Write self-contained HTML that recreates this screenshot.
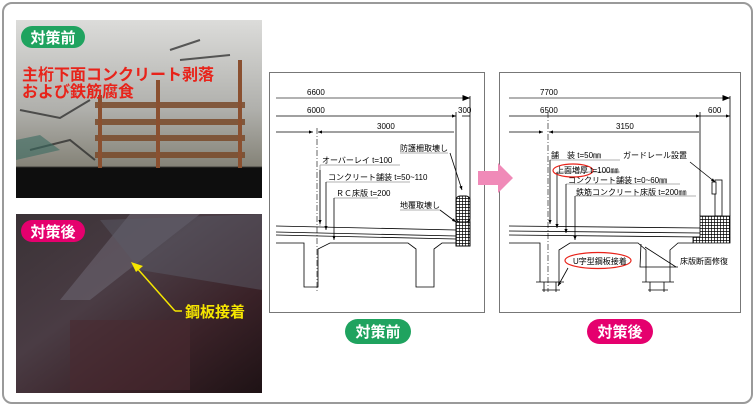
<!DOCTYPE html>
<html><head><meta charset="utf-8"><style>
html,body{margin:0;padding:0;background:#fff;}
svg{display:block;}
text{font-family:"Liberation Sans","Noto Sans CJK JP",sans-serif;}
</style></head><body>
<svg width="755" height="408" viewBox="0 0 755 408" xmlns="http://www.w3.org/2000/svg">
<defs>
<linearGradient id="p1" x1="0" y1="0" x2="0" y2="1">
<stop offset="0" stop-color="#dcdcda"/><stop offset="0.5" stop-color="#b0b0ac"/><stop offset="0.82" stop-color="#858378"/><stop offset="0.83" stop-color="#111"/><stop offset="1" stop-color="#0c0c0c"/></linearGradient>
<linearGradient id="p2" x1="0" y1="0" x2="1" y2="1">
<stop offset="0" stop-color="#3a3236"/><stop offset="0.4" stop-color="#4a3c44"/><stop offset="0.7" stop-color="#3a2228"/><stop offset="1" stop-color="#1e1215"/></linearGradient>
<pattern id="hatch" width="3" height="3" patternUnits="userSpaceOnUse"><rect width="3" height="3" fill="#fff"/><path d="M0 0H3M0 0V3" stroke="#000" stroke-width="1.4"/></pattern>
<marker id="ar" markerWidth="6" markerHeight="6" refX="5" refY="3" orient="auto"><path d="M0 1L5 3L0 5z" fill="#000"/></marker>
</defs>
<rect x="3" y="3" width="749" height="400" rx="9" fill="#fff" stroke="#9a9a9a" stroke-width="2"/>

<!-- photo 1 -->
<rect x="16" y="20" width="246" height="178" fill="url(#p1)"/>
<g stroke="#7a4a2a" stroke-width="6" opacity="0.85">
<path d="M95 105H245M95 122H245M95 138H245M95 155H245"/>
</g>
<g stroke="#8a5030" stroke-width="4"><path d="M100 95V170M158 80V170M240 60V170"/></g>
<g stroke="#222" stroke-width="2" fill="none" opacity="0.7"><path d="M20 110L60 118L90 100M170 50L200 40M30 150L70 140L95 160M180 60L230 55"/></g>
<path d="M16 140L40 135L60 150L16 160Z" fill="#3a6a60" opacity="0.6"/>
<rect x="16" y="168" width="246" height="30" fill="#0e0e0e"/>
<rect x="21" y="26" width="64" height="22" rx="11" fill="#1fa35f"/>
<text x="53" y="43" font-size="15" font-weight="bold" fill="#fff" text-anchor="middle">対策前</text>
<text x="22" y="80" font-size="16" fill="#e8231a" font-weight="bold">主桁下面コンクリート剥落</text>
<text x="22" y="97" font-size="16" fill="#e8231a" font-weight="bold">および鉄筋腐食</text>

<!-- photo 2 -->
<rect x="16" y="214" width="246" height="179" fill="url(#p2)"/>
<path d="M60 300L130 214H200L90 300Z" fill="#6a6470" opacity="0.6"/>
<path d="M100 220L262 214V290L140 270Z" fill="#5a5a66" opacity="0.5"/>
<rect x="70" y="320" width="120" height="70" fill="#4a2a30" opacity="0.6"/>
<rect x="21" y="220" width="64" height="22" rx="11" fill="#e5006e"/>
<text x="53" y="237" font-size="15" font-weight="bold" fill="#fff" text-anchor="middle">対策後</text>
<line x1="175" y1="311" x2="136" y2="267" stroke="#f5e600" stroke-width="1.5"/>
<path d="M131 262L143 266L136 272Z" fill="#f5e600"/>
<line x1="175" y1="311" x2="182" y2="311" stroke="#f5e600" stroke-width="1.5"/>
<text x="185" y="317" font-size="15" font-weight="bold" fill="#f5e600">鋼板接着</text>

<!-- left diagram -->
<rect x="269.5" y="72.5" width="215" height="240" fill="#fff" stroke="#777"/>
<g stroke="#000" stroke-width="0.8" fill="none">
<line x1="276" y1="98" x2="470" y2="98" marker-end="url(#ar)" stroke="#999" stroke-width="1.5"/>
<line x1="276" y1="116" x2="456" y2="116" marker-end="url(#ar)"/>
<line x1="470" y1="116" x2="462" y2="116"/>
<line x1="276" y1="132" x2="313" y2="132" marker-end="url(#ar)"/>
<line x1="454" y1="132" x2="318" y2="132" marker-end="url(#ar)"/>
<line x1="456" y1="112" x2="456" y2="246"/>
<line x1="470" y1="96" x2="470" y2="246"/>
<line x1="317" y1="128" x2="317" y2="292" stroke-dasharray="6 2 1 2" stroke-width="0.6"/>
<path d="M276 226L456 230M276 232L456 236M276 235L456 239" />
<path d="M276 243H304V287H318V249L330 243H408L416 249V287H434V249L442 243H456"/>
<path d="M320 165H400M320 165V226" stroke="#999"/>
<line x1="320" y1="170" x2="320" y2="224" marker-end="url(#ar)"/>
<path d="M326 182H410" stroke="#999"/><line x1="326" y1="182" x2="326" y2="230" marker-end="url(#ar)"/>
<path d="M334 198H378" stroke="#999"/><line x1="334" y1="198" x2="334" y2="240" marker-end="url(#ar)"/>
<path d="M400 153H448" stroke="#999"/><line x1="450" y1="153" x2="462" y2="190" marker-end="url(#ar)"/>
<path d="M400 210H440" stroke="#999"/><line x1="440" y1="210" x2="456" y2="222" marker-end="url(#ar)"/>
</g>
<rect x="456" y="196" width="14" height="26" rx="4" fill="url(#hatch)" stroke="#000"/>
<rect x="456" y="222" width="14" height="24" fill="url(#hatch)" stroke="#000"/>
<g font-size="8" fill="#000">
<text x="307" y="95">6600</text><text x="307" y="113">6000</text><text x="458" y="113">300</text>
<text x="377" y="129">3000</text>
<text x="322" y="163">オーバーレイ  t=100</text>
<text x="328" y="180">コンクリート舗装  t=50~110</text>
<text x="336" y="196">ＲＣ床版  t=200</text>
<text x="400" y="151">防護柵取壊し</text>
<text x="400" y="208">地覆取壊し</text>
</g>

<!-- right diagram -->
<rect x="499.5" y="72.5" width="241" height="240" fill="#fff" stroke="#777"/>
<g stroke="#000" stroke-width="0.8" fill="none">
<line x1="509" y1="98" x2="730" y2="98" marker-end="url(#ar)" stroke="#999" stroke-width="1.5"/>
<line x1="509" y1="116" x2="700" y2="116" marker-end="url(#ar)"/>
<line x1="700" y1="116" x2="730" y2="116" marker-end="url(#ar)"/>
<line x1="509" y1="132" x2="543" y2="132" marker-end="url(#ar)"/>
<line x1="699" y1="132" x2="549" y2="132" marker-end="url(#ar)"/>
<line x1="700" y1="112" x2="700" y2="216"/>
<line x1="730" y1="96" x2="730" y2="216"/>
<line x1="548" y1="112" x2="548" y2="292" stroke-dasharray="6 2 1 2" stroke-width="0.6"/>
<path d="M509 226L700 228M509 231L700 233M509 235L700 237"/>
<path d="M509 243H540V282M559 282V250L570 243H638L646 250V282M670 282V250L678 243H693"/>
<path d="M536 282H564M642 282H674M542 290H560M648 290H668M544 282V292M556 282V292M650 282V292M664 282V292"/>
<path d="M550 160H620" stroke="#999"/><line x1="550" y1="160" x2="550" y2="224" marker-end="url(#ar)"/>
<path d="M557 172H620" stroke="#999"/><line x1="557" y1="172" x2="557" y2="228" marker-end="url(#ar)"/>
<path d="M566 184H680" stroke="#999"/><line x1="566" y1="184" x2="566" y2="233" marker-end="url(#ar)"/>
<path d="M575 196H696" stroke="#999"/><line x1="575" y1="196" x2="575" y2="240" marker-end="url(#ar)"/>
<line x1="690" y1="162" x2="715" y2="182" marker-end="url(#ar)"/>
<line x1="568" y1="268" x2="558" y2="286" marker-end="url(#ar)"/>
<path d="M678 267H640L641 244" /><path d="M676 267L645 247"/>
</g>
<rect x="715" y="180" width="7" height="36" fill="#fff" stroke="#000" stroke-width="0.8"/>
<rect x="712" y="182" width="4" height="12" fill="#fff" stroke="#000" stroke-width="0.8"/>
<path d="M693 237H700V216H730V243H693Z" fill="url(#hatch)" stroke="#000" stroke-width="0.8"/>
<ellipse cx="573" cy="170.5" rx="20" ry="6.5" fill="none" stroke="#e8231a" stroke-width="1.2"/>
<ellipse cx="598" cy="260.5" rx="33" ry="8" fill="#fff" stroke="#e8231a" stroke-width="1.2"/>
<g font-size="8" fill="#000">
<text x="540" y="95">7700</text><text x="540" y="113">6500</text><text x="708" y="113">600</text>
<text x="616" y="129">3150</text>
<text x="551" y="158">舗　装  t=50㎜</text>
<text x="556" y="173">上面増厚  t=100㎜</text>
<text x="568" y="183">コンクリート舗装  t=0~60㎜</text>
<text x="576" y="195">鉄筋コンクリート床版  t=200㎜</text>
<text x="623" y="158">ガードレール設置</text>
<text x="573" y="264">U字型鋼板接着</text>
<text x="680" y="264">床版断面修復</text>
</g>

<!-- pink arrow (on top) -->
<path d="M478 171H498V163L513 178L498 193V185H478Z" fill="#f08ab8"/>

<!-- bottom labels -->
<rect x="345" y="319" width="66" height="25" rx="12.5" fill="#1fa35f"/>
<text x="378" y="337" font-size="15" font-weight="bold" fill="#fff" text-anchor="middle">対策前</text>
<rect x="587" y="319" width="66" height="25" rx="12.5" fill="#e5006e"/>
<text x="620" y="337" font-size="15" font-weight="bold" fill="#fff" text-anchor="middle">対策後</text>
</svg>
</body></html>
